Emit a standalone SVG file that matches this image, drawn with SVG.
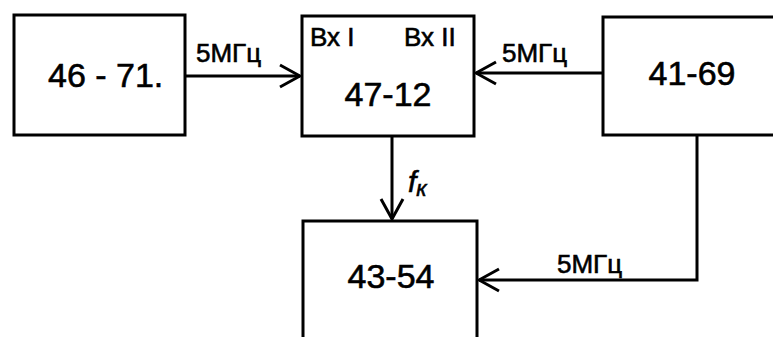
<svg xmlns="http://www.w3.org/2000/svg" width="773" height="337" viewBox="0 0 773 337">
<style>
.box{fill:none;stroke:#000;stroke-width:3}
.ln{fill:none;stroke:#000;stroke-width:3}
.t{font-family:"Liberation Sans",Arial,sans-serif;fill:#000;stroke:#000;stroke-width:0.6}
.big{font-size:34px}
.sm{font-size:26px}
</style>
<defs>
<marker id="ah" viewBox="0 0 24 26" refX="22" refY="13" markerWidth="24" markerHeight="26" markerUnits="userSpaceOnUse" orient="auto">
<path d="M2,2 L22,13 L2,24" fill="none" stroke="#000" stroke-width="3"/>
</marker>
</defs>
<rect width="773" height="337" fill="#fff"/>
<g id="n4671">
<rect class="box" x="14" y="15" width="171" height="120"/>
<text class="t big" x="48" y="87">46 - 71.</text>
</g>
<g id="n4712">
<rect class="box" x="302" y="16" width="172" height="120"/>
<text class="t sm" x="310" y="46">Вх I</text>
<text class="t sm" x="404" y="46">Вх II</text>
<text class="t big" x="388" y="106" text-anchor="middle">47-12</text>
</g>
<g id="n4169">
<rect class="box" x="603" y="17" width="172" height="118"/>
<text class="t big" x="692" y="85" text-anchor="middle">41-69</text>
</g>
<g id="n4354">
<path class="box" d="M303,337 V221 H477 V337"/>
<text class="t big" x="391" y="288" text-anchor="middle">43-54</text>
</g>
<g id="connectors">
<line class="ln" x1="185" y1="76" x2="300" y2="76" marker-end="url(#ah)"/>
<text class="t sm" x="196" y="62">5МГц</text>
<line class="ln" x1="603" y1="73" x2="476" y2="73" marker-end="url(#ah)"/>
<text class="t sm" x="502" y="62">5МГц</text>
<line class="ln" x1="392" y1="136" x2="392" y2="219" marker-end="url(#ah)"/>
<text class="t" x="408" y="192" font-size="30" font-style="italic">f<tspan font-size="22" dy="4">к</tspan></text>
<polyline class="ln" points="697,135 697,280 479,280" marker-end="url(#ah)"/>
<text class="t sm" x="557" y="273">5МГц</text>
</g>
</svg>
